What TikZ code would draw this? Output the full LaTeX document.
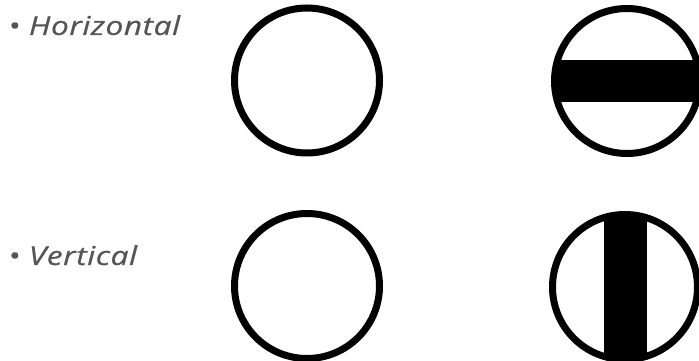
\documentclass[tikz,border=0pt]{standalone}
\usepackage{fontspec}
\setmainfont{Open Sans}
\newfontfamily\labelfont[LetterSpace=2,FakeStretch=1.22,FakeBold=0.6]{Open Sans}
\usepackage{tikz}
\usetikzlibrary{calc}
\definecolor{graytext}{HTML}{555555}
\tikzset{
  every node/.append style={font=\rmfamily},
  lbl/.style={anchor=base west,inner sep=0pt,text=graytext,font=\labelfont\itshape\fontsize{26}{30}\selectfont},
  ring/.style={draw=black,line width=7pt}
}
\begin{document}
\begin{tikzpicture}[x=1pt,y=1pt]
  \useasboundingbox (0,0) rectangle (699,361);
  % labels
  \node[lbl] (hlab) at (8,326) {• Horizontal};
  \node[lbl] (vlab) at (8,96) {• Vertical};
  % centres
  \coordinate (hplain) at (307,280.5);
  \coordinate (hbar) at (627,280);
  \coordinate (vplain) at (307,75);
  \coordinate (vbar) at (625,74);
  % plain rings
  \draw[ring] (hplain) circle (72.5);
  \draw[ring] (vplain) circle (72.5);
  % horizontal slot
  \begin{scope}
    \clip (hbar) circle (72.5);
    \fill[black] ($(hbar)+(-80,-21)$) rectangle ($(hbar)+(80,21)$);
  \end{scope}
  \draw[ring] (hbar) circle (72.5);
  % vertical slot
  \begin{scope}
    \clip (vbar) circle (72.5);
    \fill[black] ($(vbar)+(-21.5,-80)$) rectangle ($(vbar)+(21.5,80)$);
  \end{scope}
  \draw[ring] (vbar) circle (72.5);
\end{tikzpicture}
\end{document}
